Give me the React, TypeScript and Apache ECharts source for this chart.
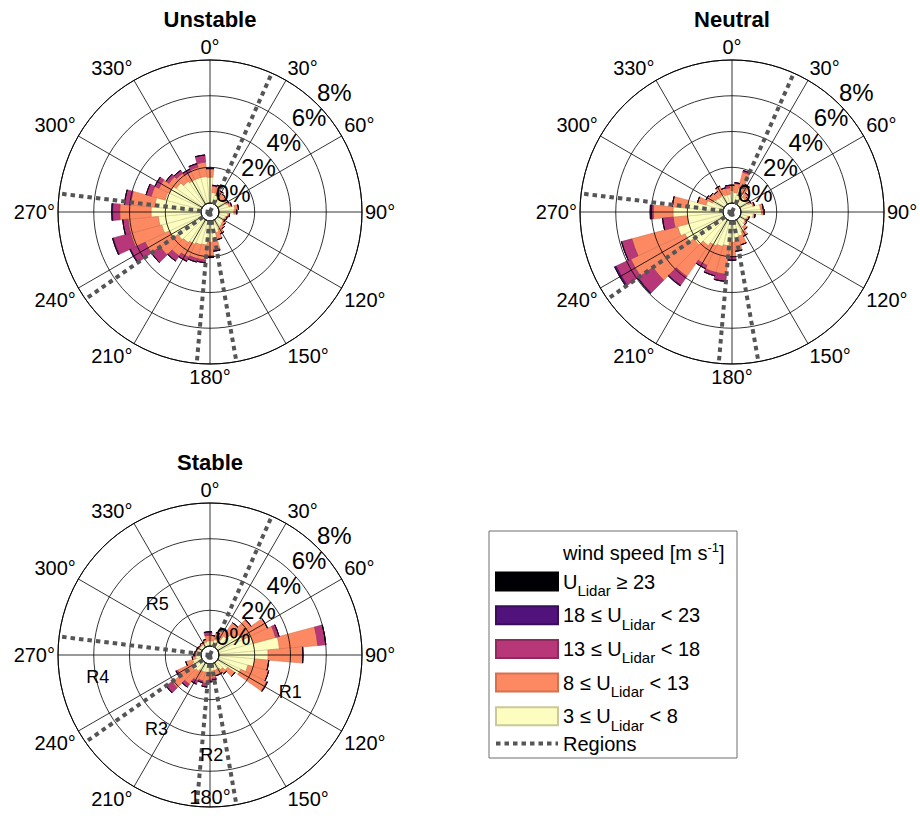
import React, { useEffect, useRef } from 'react';
import * as echarts from 'echarts';

// ---------- data ----------
const directionBins = [0, 10, 20, 30, 40, 50, 60, 70, 80, 90, 100, 110, 120, 130, 140, 150, 160, 170,
  180, 190, 200, 210, 220, 230, 240, 250, 260, 270, 280, 290, 300, 310, 320, 330, 340, 350];
const percentTicks = [0, 2, 4, 6, 8];
const regionAngles = [24, 170, 185, 235, 277];
const regionLabels = ['R1', 'R2', 'R3', 'R4', 'R5'];
const regionLabelRadius = [4.45, 5.1, 4.6, 5.9, 3.6];
const regionLabelAngle = [115, 179, 216, 259, 314];

// frequency (%) per direction bin, one array per wind-speed class
const unstable3to8 = [1.45, 0.6, 0.6, 0.5, 0.45, 0.45, 0.5, 0.6, 0.9, 0.85, 0.5, 0.4, 0.35, 0.4, 0.45, 0.55, 0.7, 1.0, 1.2, 1.35, 1.4, 1.5, 1.6, 1.7, 2.0, 2.3, 2.4, 2.8, 2.6, 2.1, 2.0, 1.8, 1.6, 1.5, 1.5, 1.5];
const unstable8to13 = [0.45, 0.35, 0.4, 0.3, 0.25, 0.2, 0.15, 0.15, 0.2, 0.15, 0.1, 0.1, 0.1, 0.15, 0.2, 0.3, 0.4, 0.6, 0.75, 0.85, 0.8, 0.8, 0.9, 1.2, 1.5, 1.8, 1.7, 1.75, 1.35, 0.8, 0.65, 0.5, 0.55, 0.5, 0.6, 0.8];
const unstable13to18 = [0.05, 0.05, 0.05, 0, 0, 0, 0, 0, 0, 0, 0, 0, 0, 0, 0, 0, 0, 0.1, 0.1, 0.15, 0.2, 0.25, 0.35, 0.6, 0.9, 1.0, 0.3, 0.4, 0.35, 0.3, 0.25, 0.2, 0.2, 0.15, 0.2, 0.4];
const unstable18to23 = [0, 0, 0, 0, 0, 0, 0, 0, 0, 0, 0, 0, 0, 0, 0, 0, 0, 0, 0, 0, 0, 0, 0, 0, 0.05, 0.05, 0, 0.05, 0, 0, 0, 0, 0, 0, 0, 0];
const unstable23plus = [0, 0, 0, 0, 0, 0, 0, 0, 0, 0, 0, 0, 0, 0, 0, 0, 0, 0, 0, 0, 0, 0, 0, 0, 0, 0, 0, 0, 0, 0, 0, 0, 0, 0, 0, 0];

const neutral3to8 = [0.7, 0.6, 0.9, 0.7, 0.5, 0.45, 0.5, 0.7, 1.1, 1.15, 0.7, 0.4, 0.35, 0.4, 0.5, 0.7, 0.9, 1.1, 1.2, 1.4, 1.5, 1.6, 1.8, 2.1, 2.4, 2.65, 2.0, 2.8, 2.0, 1.0, 0.7, 0.6, 0.55, 0.6, 0.5, 0.5];
const neutral8to13 = [0.3, 0.5, 0.9, 0.5, 0.3, 0.2, 0.15, 0.1, 0.15, 0.15, 0.1, 0.1, 0.1, 0.1, 0.2, 0.3, 0.5, 0.6, 0.8, 1.6, 1.5, 1.2, 2.1, 2.8, 3.35, 2.65, 0.8, 1.1, 0.85, 0.5, 0.4, 0.4, 0.35, 0.5, 0.4, 0.35];
const neutral13to18 = [0, 0.05, 0.1, 0, 0, 0, 0, 0, 0, 0, 0, 0, 0, 0, 0, 0, 0, 0, 0.2, 0.4, 0.2, 0.2, 0.6, 1.0, 0.9, 0.6, 0.6, 0.1, 0, 0, 0, 0, 0, 0, 0, 0.15];
const neutral18to23 = [0, 0, 0, 0, 0, 0, 0, 0, 0, 0, 0, 0, 0, 0, 0, 0, 0, 0, 0, 0, 0, 0, 0.05, 0.05, 0.1, 0, 0, 0.08, 0, 0, 0, 0, 0, 0, 0, 0];
const neutral23plus = [0, 0, 0, 0, 0, 0, 0, 0, 0, 0, 0, 0, 0, 0, 0, 0, 0, 0, 0, 0, 0, 0, 0, 0, 0, 0, 0, 0, 0, 0, 0, 0, 0, 0, 0, 0];

const stable3to8 = [0.3, 0.3, 0.4, 0.5, 0.8, 1.1, 1.5, 2.0, 3.4, 2.75, 2.0, 1.7, 1.4, 0.7, 0.5, 0.4, 0.4, 0.4, 0.5, 0.5, 0.5, 0.5, 0.6, 0.7, 0.6, 0.5, 0.3, 0.3, 0.25, 0.25, 0.2, 0.2, 0.2, 0.2, 0.25, 0.3];
const stable8to13 = [0.3, 0.3, 0.4, 0.6, 0.9, 1.2, 1.55, 1.3, 2.15, 1.95, 0.8, 1.2, 1.6, 0.5, 0.3, 0.3, 0.3, 0.4, 0.4, 0.6, 0.5, 0.6, 0.9, 1.4, 0.9, 0.4, 0.2, 0.1, 0.1, 0.05, 0.1, 0.05, 0.1, 0.1, 0.15, 0.3];
const stable13to18 = [0.2, 0, 0, 0, 0, 0, 0, 0.2, 0.45, 0, 0, 0, 0.05, 0, 0, 0, 0, 0.1, 0.1, 0.2, 0.1, 0.2, 0.2, 0.4, 0.1, 0, 0, 0, 0, 0, 0, 0, 0, 0, 0, 0.2];
const stable18to23 = [0, 0, 0, 0, 0, 0, 0, 0, 0, 0, 0, 0, 0, 0, 0, 0, 0, 0, 0, 0, 0, 0, 0, 0, 0, 0, 0, 0, 0, 0, 0, 0, 0, 0, 0, 0];
const stable23plus = [0, 0, 0, 0, 0, 0, 0, 0, 0, 0, 0, 0, 0, 0, 0, 0, 0, 0, 0, 0, 0, 0, 0, 0, 0, 0, 0, 0, 0, 0, 0, 0, 0, 0, 0, 0];

// speed classes, inner (stacked first) to outer
const classNames = ['3 ≤ U < 8', '8 ≤ U < 13', '13 ≤ U < 18', '18 ≤ U < 23', 'U ≥ 23'];
const classColors = ['#fcfdbf', '#fc8961', '#b73779', '#51127c', '#000004'];
const classBorders = ['#c9c99a', '#d8704e', '#8e2a5e', '#3a0d5a', '#000000'];
const legendRich: Record<string, string> = {
  'U ≥ 23': '{a|U}{s|Lidar}{a| ≥ 23}',
  '18 ≤ U < 23': '{a|18 ≤ U}{s|Lidar}{a| < 23}',
  '13 ≤ U < 18': '{a|13 ≤ U}{s|Lidar}{a| < 18}',
  '8 ≤ U < 13': '{a|8 ≤ U}{s|Lidar}{a| < 13}',
  '3 ≤ U < 8': '{a|3 ≤ U}{s|Lidar}{a| < 8}',
  'Regions': '{a|Regions}',
};

const FONT = "'Liberation Sans', Arial, Helvetica, sans-serif";
const R_IN = 8.94;
const R_OUT = 152;

const plots = [
  { title: 'Unstable', center: [210, 212], data: [unstable3to8, unstable8to13, unstable13to18, unstable18to23, unstable23plus], regionText: false, innerSouthLabel: false },
  { title: 'Neutral', center: [732, 212], data: [neutral3to8, neutral8to13, neutral13to18, neutral18to23, neutral23plus], regionText: false, innerSouthLabel: false },
  { title: 'Stable', center: [210, 655], data: [stable3to8, stable8to13, stable13to18, stable18to23, stable23plus], regionText: true, innerSouthLabel: true },
];

const invisibleDot = { color: 'rgba(0,0,0,0)', opacity: 1 };

function buildOption() {
  const polar: any[] = [];
  const angleAxis: any[] = [];
  const radiusAxis: any[] = [];
  const series: any[] = [];
  const graphic: any[] = [];
  const hidden = { show: false };

  plots.forEach((p, i) => {
    const bi = 3 * i, gi = 3 * i + 1, ri = 3 * i + 2;
    polar.push({ center: p.center, radius: [R_IN, R_OUT] });
    polar.push({ center: p.center, radius: [R_IN, R_OUT] });
    polar.push({ center: p.center, radius: [0, R_OUT] });

    angleAxis.push({
      polarIndex: bi, type: 'category', data: directionBins.map(String), startAngle: 95, clockwise: true,
      axisLine: hidden, axisTick: hidden, axisLabel: hidden, splitLine: hidden, splitArea: hidden,
    });
    radiusAxis.push({
      polarIndex: bi, type: 'value', min: 0, max: 8,
      axisLine: hidden, axisTick: hidden, axisLabel: hidden, splitLine: hidden,
    });

    angleAxis.push({
      polarIndex: gi, type: 'value', min: 0, max: 360, interval: 30, startAngle: 90, clockwise: true, z: 3,
      axisLine: { show: true, lineStyle: { color: '#000', width: 1 } },
      axisTick: hidden,
      axisLabel: {
        show: true, color: '#000', fontSize: 20, fontFamily: FONT, margin: 3,
        formatter: (v: number) => (v >= 360 || (p.innerSouthLabel && v === 180) ? '' : v + '°'),
      },
      splitLine: { show: true, lineStyle: { color: '#000', width: 0.8 } },
    });
    radiusAxis.push({
      polarIndex: gi, type: 'value', min: 0, max: 8, interval: 2, z: 3,
      axisLine: hidden, axisTick: hidden, axisLabel: hidden,
      splitLine: { show: true, showMinLine: false, lineStyle: { color: '#000', width: 0.8 } },
    });

    angleAxis.push({ polarIndex: ri, type: 'value', min: 0, max: 360, startAngle: 90, clockwise: true, show: false });
    radiusAxis.push({ polarIndex: ri, type: 'value', min: -0.5, max: 8, show: false });

    p.data.forEach((arr, k) => {
      series.push({
        type: 'bar', name: classNames[k], coordinateSystem: 'polar', polarIndex: bi,
        stack: 'rose' + i, data: arr, barCategoryGap: '0%', z: 2, silent: true,
        itemStyle: { color: classColors[k], borderColor: classBorders[k], borderWidth: 0.6 },
      });
    });

    regionAngles.forEach((a) => {
      series.push({
        type: 'line', name: 'Regions', coordinateSystem: 'polar', polarIndex: ri,
        data: [[-0.5, a], [8, a]], symbol: 'none', z: 4, silent: true,
        itemStyle: { color: '#555555' },
        lineStyle: { color: '#555555', width: 4, type: [4.5, 4], cap: 'butt' },
      });
    });

    series.push({
      type: 'scatter', coordinateSystem: 'polar', polarIndex: gi, z: 5, silent: true,
      data: percentTicks.map((v) => [v, 45]), symbolSize: 1,
      itemStyle: invisibleDot,
      label: {
        show: true, position: [0, 0], align: 'left', verticalAlign: 'bottom', textBorderWidth: 0, opacity: 1,
        formatter: (q: any) => q.value[0] + '%', fontSize: 24, color: '#000', fontFamily: FONT,
      },
    });

    if (p.innerSouthLabel) {
      series.push({
        type: 'scatter', coordinateSystem: 'polar', polarIndex: gi, z: 5, silent: true,
        data: [[7.45, 180]], symbolSize: 1, itemStyle: invisibleDot,
        label: {
          show: true, position: 'inside', formatter: '180°', textBorderWidth: 0, opacity: 1,
          fontSize: 20, color: '#000', fontFamily: FONT,
        },
      });
    }

    if (p.regionText) {
      series.push({
        type: 'scatter', coordinateSystem: 'polar', polarIndex: ri, z: 5, silent: true,
        data: regionLabels.map((n, j) => ({ name: n, value: [regionLabelRadius[j], regionLabelAngle[j]] })),
        symbolSize: 1, itemStyle: invisibleDot,
        label: { show: true, position: 'inside', formatter: '{b}', textBorderWidth: 0, opacity: 1, fontSize: 18, color: '#000', fontFamily: FONT },
      });
    }

    graphic.push({
      type: 'text', x: p.center[0], y: i < 2 ? 8 : 451,
      style: { text: p.title, align: 'center', verticalAlign: 'top', font: `bold 22px ${FONT}`, fill: '#000' },
    });
  });

  graphic.push({
    type: 'rect', shape: { x: 489, y: 531, width: 248, height: 227 },
    style: { fill: '#fff', stroke: '#6e6e6e', lineWidth: 1 }, z: 0,
  });
  graphic.push({
    type: 'text', x: 563, y: 553, z: 10,
    style: {
      text: '{t|wind speed [m s}{p|-1}{t|]}', verticalAlign: 'middle', align: 'left',
      rich: {
        t: { fontSize: 20, fontFamily: FONT, fill: '#000', lineHeight: 22 },
        p: { fontSize: 13, fontFamily: FONT, fill: '#000', lineHeight: 14, padding: [0, 0, 12, 0] },
      },
    },
  });

  return {
    animation: false,
    backgroundColor: '#fff',
    polar, angleAxis, radiusAxis, series, graphic,
    legend: {
      orient: 'vertical', left: 494, top: 565, padding: 0, itemGap: 0.7,
      itemWidth: 62, itemHeight: 18, selectedMode: false, z: 10,
      data: [
        { name: 'U ≥ 23', icon: 'rect' },
        { name: '18 ≤ U < 23', icon: 'rect' },
        { name: '13 ≤ U < 18', icon: 'rect' },
        { name: '8 ≤ U < 13', icon: 'rect' },
        { name: '3 ≤ U < 8', icon: 'rect' },
        { name: 'Regions', itemStyle: { opacity: 0 }, lineStyle: { width: 4, type: [4.5, 4], color: '#555555' } },
      ],
      formatter: (name: string) => legendRich[name] || name,
      textStyle: {
        color: '#000', fontFamily: FONT, fontSize: 20,
        rich: {
          a: { fontSize: 20, lineHeight: 22, fontFamily: FONT, color: '#000' },
          s: { fontSize: 15, lineHeight: 15, fontFamily: FONT, color: '#000', padding: [18, 0, 0, 0] },
        },
      },
    },
  };
}

export default function App() {
  const ref = useRef<HTMLDivElement>(null);
  useEffect(() => {
    if (!ref.current) return;
    const chart = echarts.init(ref.current, undefined, { renderer: 'svg' });
    chart.setOption(buildOption() as any);
    return () => chart.dispose();
  }, []);
  return (
    <div
      ref={ref}
      style={{ position: 'fixed', left: 0, top: 0, width: 920, height: 829, background: '#fff' }}
    />
  );
}
